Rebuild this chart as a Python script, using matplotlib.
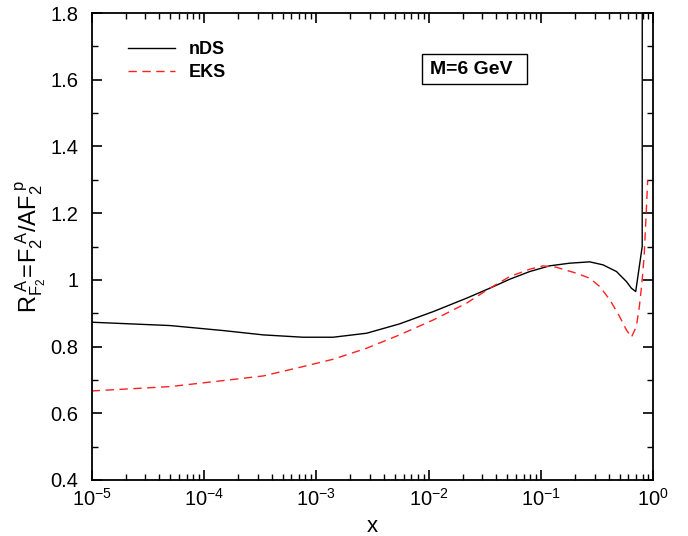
import matplotlib
matplotlib.use("Agg")
import matplotlib.pyplot as plt
from matplotlib.patches import Rectangle
from matplotlib.ticker import LogLocator, MultipleLocator, NullFormatter

plt.rcParams['font.family'] = ['Liberation Sans', 'DejaVu Sans']
plt.rcParams['mathtext.fontset'] = 'custom'
plt.rcParams['mathtext.rm'] = 'Liberation Sans'
plt.rcParams['mathtext.it'] = 'Liberation Sans'
plt.rcParams['mathtext.bf'] = 'Liberation Sans:bold'

# nDS (solid black)
nds_x = [1e-5, 4.98e-5, 1.48e-4, 3.37e-4, 7.6e-4, 1.41e-3, 2.8e-3, 5.5e-3, 1.1e-2,
         2.17e-2, 3.5e-2, 5.27e-2, 7.94e-2, 0.119, 0.18, 0.271, 0.356, 0.469,
         0.575, 0.637, 0.696, 0.795, 0.797]
nds_y = [0.873, 0.863, 0.848, 0.835, 0.828, 0.828, 0.840, 0.868, 0.905,
         0.945, 0.975, 1.002, 1.025, 1.042, 1.050, 1.054, 1.045, 1.025,
         0.995, 0.975, 0.965, 1.100, 2.5]

# EKS (dashed red)
eks_x = [1e-5, 4.98e-5, 1.48e-4, 3.37e-4, 7.6e-4, 1.41e-3, 2.8e-3, 5.5e-3, 1.1e-2,
         2.17e-2, 3.5e-2, 5.27e-2, 7.94e-2, 0.104, 0.136, 0.206, 0.271, 0.333,
         0.41, 0.50, 0.575, 0.637, 0.705, 0.75, 0.79, 0.827, 0.86, 0.89]
eks_y = [0.667, 0.680, 0.698, 0.712, 0.740, 0.762, 0.795, 0.835, 0.880,
         0.930, 0.975, 1.010, 1.032, 1.042, 1.038, 1.020, 1.005, 0.980,
         0.940, 0.890, 0.850, 0.828, 0.860, 0.920, 0.990, 1.070, 1.190, 1.300]

fig = plt.figure(figsize=(6.88, 5.36), dpi=100)
ax = fig.add_axes([0.1333, 0.1045, 0.9497 - 0.1333, 0.9757 - 0.1045])

ax.plot(nds_x, nds_y, color='black', lw=1.0, label='nDS')
ax.plot(eks_x, eks_y, color='#ff2020', lw=1.0, dashes=(6, 4), label='EKS')

ax.set_xscale('log')
ax.set_xlim(1e-5, 1)
ax.set_ylim(0.4, 1.8)

ax.xaxis.set_major_locator(LogLocator(base=10, numticks=10))
ax.xaxis.set_minor_locator(LogLocator(base=10, subs=range(2, 10), numticks=20))
ax.xaxis.set_minor_formatter(NullFormatter())
ax.yaxis.set_minor_locator(MultipleLocator(0.1))
ax.set_yticks([0.4, 0.6, 0.8, 1.0, 1.2, 1.4, 1.6, 1.8])
ax.set_yticklabels(['0.4', '0.6', '0.8', '1', '1.2', '1.4', '1.6', '1.8'])

ax.tick_params(which='both', direction='in', top=True, right=True, labelsize=14.5)
ax.tick_params(which='major', length=7, width=1.2)
ax.tick_params(which='minor', length=4, width=1.0)
ax.tick_params(axis='y', which='both', pad=9.5)
ax.tick_params(axis='x', which='both', pad=6)
for s in ax.spines.values():
    s.set_linewidth(1.3)

ax.set_xlabel('x', fontsize=16, labelpad=4)
ax.set_ylabel(r'$\mathregular{R_{F_2}^{\ A}\!=\!F_2^{\ A}/AF_2^{\ p}}$', fontsize=17, labelpad=2)

leg = ax.legend(loc='upper left', bbox_to_anchor=(0.035, 0.975), frameon=False,
                handlelength=2.6, handletextpad=0.8, labelspacing=0.35,
                prop={'weight': 'bold', 'size': 13})

ax.add_patch(Rectangle((0.588, 0.848), 0.775 - 0.588, 0.912 - 0.848,
                       transform=ax.transAxes, fill=True, fc='white',
                       ec='black', lw=1.0, zorder=3))
ax.text(0.676, 0.880, 'M=6 GeV', transform=ax.transAxes, ha='center', va='center',
        fontsize=14, fontweight='bold', zorder=4)

fig.savefig('out.png', dpi=100)
